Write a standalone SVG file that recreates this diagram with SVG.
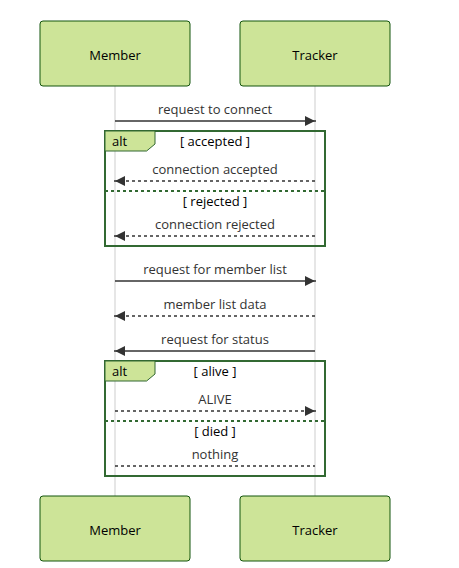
<svg xmlns="http://www.w3.org/2000/svg" width="459" height="568" viewBox="0 0 459 568">
<style>
.actor{fill:#cde498;stroke:#13540c;stroke-width:1;}
.actorText{font-family:"Open Sans","Liberation Sans",sans-serif;font-size:13px;fill:#000;text-anchor:middle;}
.life{stroke:#999;stroke-width:0.5;fill:none;}
.msg{stroke:#333;stroke-width:1.5;fill:none;}
.dash{stroke-dasharray:3,3;}
.msgText{font-family:"Open Sans","Liberation Sans",sans-serif;font-size:13px;fill:#333;text-anchor:middle;}
.loop{stroke:#326932;stroke-width:2;fill:none;}
.sep{stroke:#326932;stroke-width:2;stroke-dasharray:3,3;fill:none;}
.tab{fill:#cde498;stroke:#326932;stroke-width:1;}
.tabText{font-family:"Open Sans","Liberation Sans",sans-serif;font-size:13px;fill:#000;}
.condText{font-family:"Open Sans","Liberation Sans",sans-serif;font-size:13px;fill:#000;text-anchor:middle;}
</style>
<defs>
<marker id="arrow" viewBox="0 0 12 12" refX="11" refY="5" markerWidth="12" markerHeight="12" markerUnits="userSpaceOnUse" orient="auto">
<path d="M0,0 L10,5 L0,10 z" fill="#333"/>
</marker>
</defs>
<rect width="459" height="568" fill="#fff"/>
<g id="lifelines">
<line class="life" x1="115" y1="86" x2="115" y2="496"/>
<line class="life" x1="315" y1="86" x2="315" y2="496"/>
</g>
<g id="member-top">
<rect class="actor" x="40" y="21" width="150" height="65" rx="3"/>
<text class="actorText" x="115" y="59.5">Member</text>
</g>
<g id="tracker-top">
<rect class="actor" x="240" y="21" width="150" height="65" rx="3"/>
<text class="actorText" x="315" y="59.5">Tracker</text>
</g>
<g id="member-bottom">
<rect class="actor" x="40" y="496" width="150" height="65" rx="3"/>
<text class="actorText" x="115" y="534.5">Member</text>
</g>
<g id="tracker-bottom">
<rect class="actor" x="240" y="496" width="150" height="65" rx="3"/>
<text class="actorText" x="315" y="534.5">Tracker</text>
</g>
<g id="alt1">
<rect class="loop" x="105" y="131" width="220" height="115"/>
<line class="sep" x1="105" y1="191" x2="325" y2="191"/>
<polygon class="tab" points="105,131 155,131 155,144 146.6,151 105,151"/>
<text class="tabText" x="112" y="146">alt</text>
<text class="condText" x="215" y="146">[ accepted ]</text>
<text class="condText" x="215" y="206">[ rejected ]</text>
</g>
<g id="alt2">
<rect class="loop" x="105" y="361" width="220" height="115"/>
<line class="sep" x1="105" y1="421" x2="325" y2="421"/>
<polygon class="tab" points="105,361 155,361 155,374 146.6,381 105,381"/>
<text class="tabText" x="112" y="376">alt</text>
<text class="condText" x="215" y="376">[ alive ]</text>
<text class="condText" x="215" y="436">[ died ]</text>
</g>
<g id="connectors">
<line class="msg" x1="115" y1="121" x2="316" y2="121" marker-end="url(#arrow)"/>
<line class="msg dash" x1="315" y1="181" x2="114" y2="181" marker-end="url(#arrow)"/>
<line class="msg dash" x1="315" y1="236" x2="114" y2="236" marker-end="url(#arrow)"/>
<line class="msg" x1="115" y1="281" x2="316" y2="281" marker-end="url(#arrow)"/>
<line class="msg dash" x1="315" y1="316" x2="114" y2="316" marker-end="url(#arrow)"/>
<line class="msg" x1="315" y1="351" x2="114" y2="351" marker-end="url(#arrow)"/>
<line class="msg dash" x1="115" y1="411" x2="316" y2="411" marker-end="url(#arrow)"/>
<line class="msg dash" x1="115" y1="466" x2="315" y2="466"/>
</g>
<g id="labels">
<text class="msgText" x="215" y="114">request to connect</text>
<text class="msgText" x="215" y="174">connection accepted</text>
<text class="msgText" x="215" y="229">connection rejected</text>
<text class="msgText" x="215" y="274">request for member list</text>
<text class="msgText" x="215" y="309">member list data</text>
<text class="msgText" x="215" y="344">request for status</text>
<text class="msgText" x="215" y="404">ALIVE</text>
<text class="msgText" x="215" y="459">nothing</text>
</g>
</svg>
